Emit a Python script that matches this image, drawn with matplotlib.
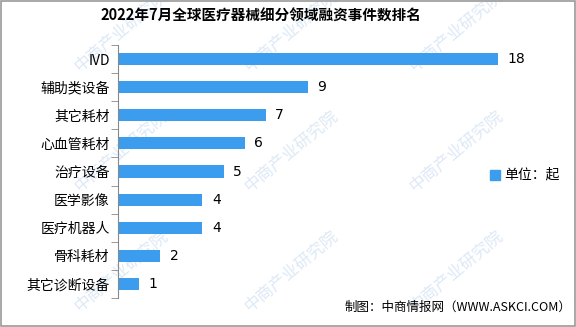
import matplotlib
matplotlib.use('Agg')
import matplotlib.pyplot as plt
from matplotlib.patches import Rectangle

plt.rcParams['font.family'] = ['Noto Sans CJK SC', 'DejaVu Sans']

# data (top to bottom)
categories = ['IVD', '辅助类设备', '其它耗材', '心血管耗材', '治疗设备',
              '医学影像', '医疗机器人', '骨科耗材', '其它诊断设备']
counts = [18, 9, 7, 6, 5, 4, 4, 2, 1]

title = '2022年7月全球医疗器械细分领域融资事件数排名'
unit_label = '单位：起'
source = '制图：中商情报网（WWW.ASKCI.COM）'

bar_color = '#3c9dee'
W, H = 576, 327

fig = plt.figure(figsize=(W / 100, H / 100), dpi=100)

# faint watermarks behind the chart
wm_x = [65, 235, 400, 567]
wm_y = [77, 197, 317]
for wx in wm_x:
    for wy in wm_y:
        fig.text((wx + 12) / W, 1 - (wy - 8) / H, '中商产业研究院', rotation=40,
                 rotation_mode='anchor', ha='left', va='center',
                 fontsize=12, color='#dde9f6', zorder=0, clip_on=True)

ax = fig.add_axes([118 / W, 1 - 298 / H, (560 - 118) / W, (298 - 45) / H])
ax.set_zorder(1)
ax.patch.set_alpha(0)

y = list(range(len(categories)))
ax.barh(y, counts, height=0.43, color=bar_color, zorder=2)
px_per_unit = (498 - 118) / 18
ax.set_xlim(0, (560 - 118) / px_per_unit)
ax.set_ylim(len(categories) - 0.5, -0.5)

for i, v in enumerate(counts):
    ax.text(v + 0.45, i, str(v), va='center', ha='left', fontsize=10,
            family=['DejaVu Sans'])

ax.set_yticks(y)
ax.set_yticklabels(categories, fontsize=10)
ax.tick_params(axis='y', length=0, pad=6)
ax.set_yticks([i + 0.5 for i in range(-1, len(categories))], minor=True)
ax.tick_params(axis='y', which='minor', length=5, color='#888888')
ax.set_xticks([])
for s in ['top', 'right', 'bottom']:
    ax.spines[s].set_visible(False)
ax.spines['left'].set_color('#888888')

fig.text(261 / W, 1 - 16 / H, title, ha='center', va='center',
         fontsize=10.5, fontweight='bold', zorder=2)

# legend
fig.patches.append(Rectangle((490 / W, 1 - 180 / H), 10 / W, 10 / H,
                             color=bar_color, transform=fig.transFigure))
fig.text(504 / W, 1 - 175 / H, unit_label, ha='left', va='center', fontsize=10,
         zorder=2)

fig.text(571 / W, 1 - 307 / H, source, ha='right', va='center', fontsize=9,
         zorder=2)

# border
fig.patches.append(Rectangle((0.5 / W, 1.5 / H), (W - 2) / W, (H - 2.5) / H,
                             fill=False, edgecolor='#999999', linewidth=1.2,
                             transform=fig.transFigure))

fig.savefig('out.png', dpi=100)
